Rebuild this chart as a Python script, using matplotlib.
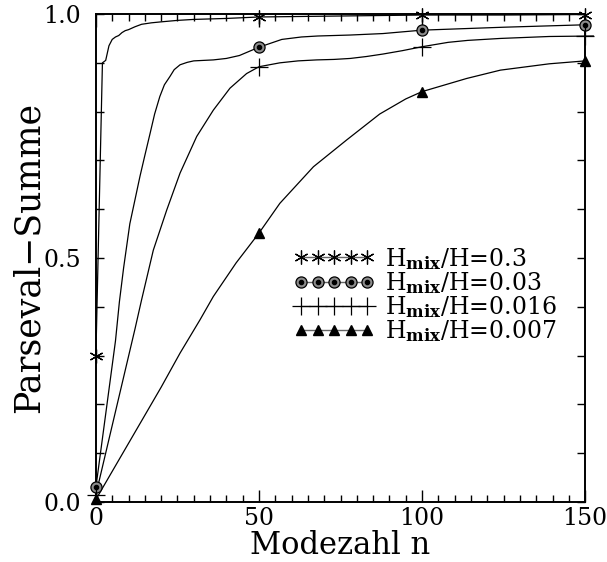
import numpy as np
import matplotlib.pyplot as plt
from matplotlib.lines import Line2D
from matplotlib.legend_handler import HandlerTuple
from matplotlib.ticker import MultipleLocator

plt.rcParams['font.family'] = 'DejaVu Serif'
plt.rcParams['mathtext.fontset'] = 'dejavuserif'

# Parseval sums vs. mode number for four mixing-layer ratios
n_a = [0, 1, 2, 3, 4, 5, 6, 7, 8, 9, 10, 12, 14, 17, 20, 25, 30, 40, 50, 75, 100, 125, 150]
v_a = [0.30, 0.60, 0.90, 0.905, 0.935, 0.948, 0.953, 0.956, 0.962, 0.966, 0.968, 0.974,
       0.979, 0.982, 0.984, 0.987, 0.989, 0.991, 0.994, 0.996, 0.998, 0.998, 0.999]

n_b = [0, 2, 4, 6, 7.2, 8.5, 10.4, 12, 13.5, 15, 16.6, 18, 19.6, 21, 22.7, 24, 25.8, 28, 30,
       33, 36, 40, 44, 50, 57, 63, 68, 73, 78, 88, 100, 125, 150]
v_b = [0.03, 0.13, 0.23, 0.33, 0.41, 0.48, 0.57, 0.62, 0.667, 0.71, 0.755, 0.795, 0.831,
       0.855, 0.872, 0.886, 0.896, 0.901, 0.904, 0.905, 0.906, 0.909, 0.915, 0.932, 0.948,
       0.953, 0.955, 0.956, 0.957, 0.960, 0.967, 0.973, 0.978]

n_c = [0, 3, 6, 9, 12, 14, 17.6, 21.7, 25.8, 30.9, 36, 41.1, 46.2, 50, 56.4, 62, 67.7, 73,
       78, 83, 88, 94, 100, 108, 114, 124, 139, 152.5]
v_c = [0.015, 0.10, 0.185, 0.27, 0.355, 0.414, 0.516, 0.598, 0.674, 0.749, 0.803, 0.848,
       0.878, 0.892, 0.900, 0.904, 0.906, 0.907, 0.909, 0.913, 0.918, 0.925, 0.933, 0.942,
       0.946, 0.950, 0.954, 0.955]

n_d = [0, 10, 20, 25.8, 31.9, 36, 43, 50, 56.4, 66.7, 76.9, 87, 95, 100, 113.7, 124, 139, 150]
v_d = [0.005, 0.12, 0.235, 0.305, 0.373, 0.421, 0.49, 0.551, 0.612, 0.687, 0.742, 0.795,
       0.826, 0.841, 0.868, 0.885, 0.898, 0.904]

# marked modes
n_mark = [0, 50, 100, 150]
m_a = [0.30, 0.994, 0.998, 0.999]
m_b = [0.03, 0.932, 0.967, 0.978]
m_c = [0.015, 0.892, 0.933, 0.955]
m_d = [0.005, 0.551, 0.841, 0.904]

labels = [r'H$_{\mathbf{mix}}$/H=0.3', r'H$_{\mathbf{mix}}$/H=0.03',
          r'H$_{\mathbf{mix}}$/H=0.016', r'H$_{\mathbf{mix}}$/H=0.007']

fig = plt.figure(figsize=(6.07, 5.62), dpi=100)
ax = fig.add_axes([0.158, 0.107, 0.806, 0.868])

for n, v in [(n_a, v_a), (n_b, v_b), (n_c, v_c), (n_d, v_d)]:
    ax.plot(n, v, color='black', lw=0.9, clip_on=False, zorder=3)

star = dict(marker=(6, 2, 0), ms=10, mew=0.9, color='black', ls='none')
ring = dict(marker='o', ms=8, mfc='0.55', mec='black', mew=0.9, ls='none')
dot = dict(marker='o', ms=3, color='black', ls='none')
cross = dict(marker='+', ms=13, mew=0.9, color='black', ls='none')
tri = dict(marker='^', ms=7, color='black', ls='none')

ax.plot(n_mark, m_a, clip_on=False, zorder=4, **star)
ax.plot(n_mark, m_b, clip_on=False, zorder=4, **ring)
ax.plot(n_mark, m_b, clip_on=False, zorder=5, **dot)
ax.plot(n_mark, m_c, clip_on=False, zorder=4, **cross)
ax.plot(n_mark, m_d, clip_on=False, zorder=4, **tri)

ax.set_xlim(0, 150)
ax.set_ylim(0, 1)
ax.xaxis.set_major_locator(MultipleLocator(50))
ax.xaxis.set_minor_locator(MultipleLocator(5))
ax.yaxis.set_major_locator(MultipleLocator(0.5))
ax.yaxis.set_minor_locator(MultipleLocator(0.1))
ax.tick_params(which='both', direction='in', top=True, right=True, width=1, labelsize=17)
ax.tick_params(axis='x', which='major', length=9, pad=4)
ax.tick_params(axis='x', which='minor', length=5)
ax.tick_params(axis='y', which='major', length=6, pad=11)
ax.tick_params(axis='y', which='minor', length=6)
ax.yaxis.set_major_formatter(lambda y, p: f'{y:.1f}')
for s in ax.spines.values():
    s.set_linewidth(1.4)

ax.set_xlabel('Modezahl n', fontsize=22, labelpad=0)
ax.set_ylabel('Parseval\u2212Summe', fontsize=25, labelpad=-2)

lg = '0.4'
h_a = Line2D([], [], lw=1, **star)
h_b = Line2D([], [], **ring)
h_b_dot = Line2D([], [], **dot)
h_c = Line2D([], [], lw=1, **cross)
h_d = Line2D([], [], **tri)
handles = [(Line2D([], [], color=lg, lw=1), h_a), (Line2D([], [], color=lg, lw=1), h_b, h_b_dot),
           (Line2D([], [], color=lg, lw=1), h_c), (Line2D([], [], color=lg, lw=1), h_d)]
ax.legend(handles, labels, handler_map={tuple: HandlerTuple(ndivide=1)},
          numpoints=5, frameon=False, fontsize=17, handlelength=3.4, handletextpad=0.45,
          labelspacing=-0.07, loc='upper left', bbox_to_anchor=(0.405, 0.525),
          borderaxespad=0, borderpad=0)

fig.savefig('out.png', dpi=100)
